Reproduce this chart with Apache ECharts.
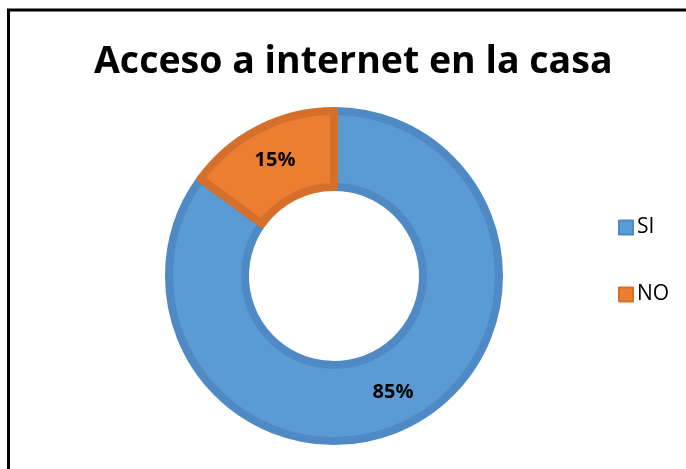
<!DOCTYPE html>
<html>
<head>
<meta charset="utf-8">
<script src="https://cdn.jsdelivr.net/npm/echarts@6/dist/echarts.min.js"></script>
<style>
html,body{margin:0;padding:0;background:#fff;}
#c{width:686px;height:469px;}
</style>
</head>
<body>
<div id="c"></div>
<script>
const titleText = 'Acceso a internet en la casa';
const categories = ['SI', 'NO'];
const values = [85, 15];
const fillColors = ['#5B9BD5', '#ED7D31'];
const borderColors = ['#4F8AC4', '#D4702C'];

const chart = echarts.init(document.getElementById('c'), null, {renderer: 'canvas'});
const data = categories.map((n, i) => ({
  name: n,
  value: values[i],
  itemStyle: {color: fillColors[i], borderColor: borderColors[i], borderWidth: 8}
}));
chart.setOption({
  animation: false,
  graphic: [{
    type: 'polyline',
    shape: {points: [[8.5, 469], [8.5, 10], [686, 10]]},
    style: {stroke: '#000', lineWidth: 3, fill: null}
  }],
  title: {
    text: titleText,
    left: 89,
    top: 38,
    textStyle: {fontFamily: 'Open Sans', fontWeight: 'bold', fontSize: 37.5, color: '#000'}
  },
  legend: {
    orient: 'vertical',
    left: 613,
    top: 212,
    itemWidth: 14,
    itemHeight: 14,
    itemGap: 46,
    icon: 'rect',
    data: categories,
    textStyle: {fontFamily: 'Open Sans', fontSize: 21, color: '#000', padding: [0, 0, 0, -1]}
  },
  series: [{
    type: 'pie',
    center: [334, 276],
    radius: [89, 165],
    startAngle: 90,
    clockwise: true,
    data: data,
    label: {
      show: true,
      position: 'inside',
      formatter: '{d}%',
      fontFamily: 'Open Sans',
      fontWeight: 'bold',
      fontSize: 20,
      color: '#000'
    },
    labelLine: {show: false},
    emphasis: {disabled: true}
  }]
});
</script>
</body>
</html>
